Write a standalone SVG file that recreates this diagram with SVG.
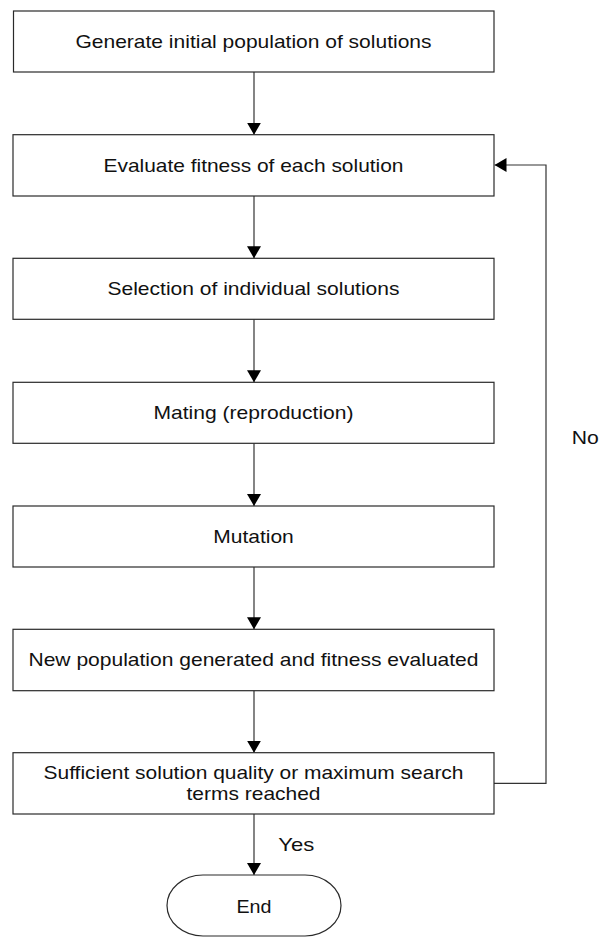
<svg xmlns="http://www.w3.org/2000/svg" width="601" height="937" viewBox="0 0 601 937">
  <style>
    .box { fill: #ffffff; stroke: #2a2a2a; stroke-width: 1.2; }
    .lbl { font-family: "Liberation Sans", Arial, sans-serif; font-size: 18.5px; fill: #111111; }
    .mid { text-anchor: middle; }
    .wire { fill: none; stroke: #333333; stroke-width: 1.2; }
  </style>
  <defs>
    <marker id="arrow" viewBox="0 0 12 14" refX="12" refY="7" markerWidth="12" markerHeight="14" markerUnits="userSpaceOnUse" orient="auto">
      <path d="M0,0 L12,7 L0,14 Z" fill="#000000"/>
    </marker>
  </defs>
  <rect width="601" height="937" fill="#ffffff"/>

  <g id="connectors">
    <line class="wire" x1="254" y1="72" x2="254" y2="134.7" marker-end="url(#arrow)"/>
    <line class="wire" x1="254" y1="196" x2="254" y2="258.3" marker-end="url(#arrow)"/>
    <line class="wire" x1="254" y1="319.3" x2="254" y2="382.3" marker-end="url(#arrow)"/>
    <line class="wire" x1="254" y1="443.3" x2="254" y2="506" marker-end="url(#arrow)"/>
    <line class="wire" x1="254" y1="567" x2="254" y2="629.3" marker-end="url(#arrow)"/>
    <line class="wire" x1="254" y1="690.7" x2="254" y2="752.7" marker-end="url(#arrow)"/>
    <line class="wire" x1="254" y1="814" x2="254" y2="875" marker-end="url(#arrow)"/>
    <polyline class="wire" points="494,783.3 546,783.3 546,165 494.5,165" marker-end="url(#arrow)"/>
    <text class="lbl" x="278.3" y="850.7" textLength="36" lengthAdjust="spacingAndGlyphs">Yes</text>
    <text class="lbl" x="571.7" y="443.7" textLength="27" lengthAdjust="spacingAndGlyphs">No</text>
  </g>

  <g id="init">
    <rect class="box" x="13.5" y="11" width="480.5" height="61"/>
    <text class="lbl mid" x="253.5" y="47.7" textLength="356" lengthAdjust="spacingAndGlyphs">Generate initial population of solutions</text>
  </g>

  <g id="evaluate">
    <rect class="box" x="13" y="134.7" width="481" height="61.3"/>
    <text class="lbl mid" x="253.5" y="171.7" textLength="300" lengthAdjust="spacingAndGlyphs">Evaluate fitness of each solution</text>
  </g>

  <g id="selection">
    <rect class="box" x="13" y="258.3" width="481" height="61"/>
    <text class="lbl mid" x="253.5" y="295.2" textLength="292" lengthAdjust="spacingAndGlyphs">Selection of individual solutions</text>
  </g>

  <g id="mating">
    <rect class="box" x="13" y="382.3" width="481" height="61"/>
    <text class="lbl mid" x="253.5" y="419.2" textLength="200" lengthAdjust="spacingAndGlyphs">Mating (reproduction)</text>
  </g>

  <g id="mutation">
    <rect class="box" x="13" y="506" width="481" height="61"/>
    <text class="lbl mid" x="253.5" y="542.9" textLength="80.5" lengthAdjust="spacingAndGlyphs">Mutation</text>
  </g>

  <g id="new-population">
    <rect class="box" x="13" y="629.3" width="481" height="61.4"/>
    <text class="lbl mid" x="253.5" y="666.3" textLength="450" lengthAdjust="spacingAndGlyphs">New population generated and fitness evaluated</text>
  </g>

  <g id="termination">
    <rect class="box" x="13" y="752.7" width="481" height="61.3"/>
    <text class="lbl mid" x="253.5" y="779.3" textLength="420" lengthAdjust="spacingAndGlyphs">Sufficient solution quality or maximum search</text>
    <text class="lbl mid" x="253.5" y="800" textLength="134" lengthAdjust="spacingAndGlyphs">terms reached</text>
  </g>

  <g id="end">
    <path class="box" d="M203,875 H305 A36,30.5 0 0 1 305,936 H203 A36,30.5 0 0 1 203,875 Z"/>
    <text class="lbl mid" x="254" y="913" textLength="35" lengthAdjust="spacingAndGlyphs">End</text>
  </g>
</svg>
